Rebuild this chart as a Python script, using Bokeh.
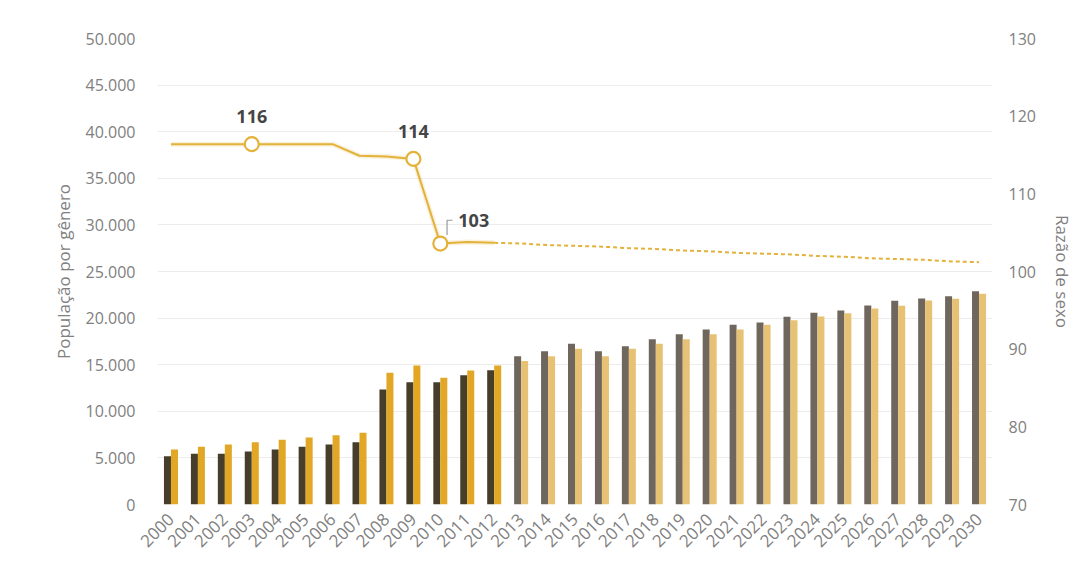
from bokeh.plotting import figure
from bokeh.models import ColumnDataSource, Range1d, LinearAxis, FixedTicker
from bokeh.transform import dodge
from bokeh.core.properties import value
from bokeh.embed import file_html
from bokeh.resources import INLINE
import math

# ---------------- data ----------------
years = list(range(2000, 2031))
hist_years = years[:13]          # 2000-2012
proj_years = years[13:]          # 2013-2030

# population by gender (dark series / gold series)
series_a = [5180, 5440, 5440, 5690, 5900, 6190, 6440, 6690, 12340, 13120, 13120, 13880, 14410,
            15900, 16450, 17240, 16450, 16990, 17740, 18270, 18780, 19280, 19530, 20140, 20570,
            20820, 21350, 21860, 22100, 22350, 22890]
series_b = [5900, 6190, 6440, 6690, 6940, 7190, 7440, 7690, 14130, 14910, 13590, 14380, 14910,
            15400, 15910, 16700, 15910, 16700, 17240, 17740, 18270, 18780, 19280, 19780, 20170,
            20530, 21030, 21320, 21890, 22070, 22610]

# sex ratio
ratio_hist_years = hist_years
ratio_hist = [116.4, 116.4, 116.4, 116.4, 116.4, 116.4, 116.4, 114.9, 114.8, 114.5, 103.6, 103.8, 103.7]
ratio_proj_years = years[12:]    # 2012-2030
ratio_proj = [103.7, 103.6, 103.4, 103.3, 103.2, 103.0, 102.9, 102.7, 102.6, 102.4, 102.3, 102.2,
              102.0, 101.9, 101.7, 101.6, 101.5, 101.3, 101.2]

label_years = [2003, 2009, 2010]
label_texts = ["116", "114", "103"]

left_ticks = list(range(0, 50001, 5000))
right_ticks = list(range(70, 131, 10))

# ---------------- styling ----------------
FONT = "Open Sans"
TICK_COLOR = "#808080"
HIST_DARK = "#463d2b"
HIST_GOLD = "#e1a725"
PROJ_DARK = "#6f675d"
PROJ_GOLD = "#e8c274"
LINE_COLOR = "#e2b23a"

p = figure(frame_width=835, frame_height=466,
           min_border_left=157, min_border_right=84, min_border_top=38, min_border_bottom=71,
           x_range=Range1d(1999.5, 2030.5), y_range=Range1d(0, 50000),
           output_backend="svg", toolbar_location=None, tools="")
p.extra_y_ranges = {"ratio": Range1d(70, 130)}

p.outline_line_color = None
p.background_fill_color = "white"
p.border_fill_color = "white"
p.xgrid.grid_line_color = None
p.ygrid.grid_line_color = "#ececec"
p.ygrid.grid_line_width = 1

# bars
hist_src = ColumnDataSource(dict(year=hist_years, a=series_a[:13], b=series_b[:13]))
proj_src = ColumnDataSource(dict(year=proj_years, a=series_a[13:], b=series_b[13:]))
BW = 0.26
p.vbar(x=dodge("year", -0.13, range=p.x_range), top="a", width=BW, source=hist_src,
       fill_color=HIST_DARK, line_color=None)
p.vbar(x=dodge("year", 0.13, range=p.x_range), top="b", width=BW, source=hist_src,
       fill_color=HIST_GOLD, line_color=None)
p.vbar(x=dodge("year", -0.13, range=p.x_range), top="a", width=BW, source=proj_src,
       fill_color=PROJ_DARK, line_color=None)
p.vbar(x=dodge("year", 0.13, range=p.x_range), top="b", width=BW, source=proj_src,
       fill_color=PROJ_GOLD, line_color=None)

# ratio line
p.line(ratio_hist_years, ratio_hist, y_range_name="ratio", line_color=LINE_COLOR,
       line_width=5, line_alpha=0.18)
p.line(ratio_hist_years, ratio_hist, y_range_name="ratio", line_color=LINE_COLOR, line_width=2)
p.line(ratio_proj_years, ratio_proj, y_range_name="ratio", line_color=LINE_COLOR,
       line_width=2, line_dash="4 3")

ratio_all = dict(zip(ratio_hist_years, ratio_hist))
lab_vals = [ratio_all[y] for y in label_years]
p.scatter(label_years, lab_vals, y_range_name="ratio", size=14, marker="circle",
          fill_color="white", line_color=LINE_COLOR, line_width=2.2)

# labels: first two above, third to the right
p.text(label_years[:2], lab_vals[:2], text=label_texts[:2], y_range_name="ratio",
       text_font=value(FONT), text_font_style="bold", text_font_size="18px",
       text_color="#454545", text_align="center", text_baseline="bottom", y_offset=-21)
p.text([label_years[2]], [lab_vals[2]], text=[label_texts[2]], y_range_name="ratio",
       text_font=value(FONT), text_font_style="bold", text_font_size="18px",
       text_color="#454545", text_align="left", text_baseline="middle",
       x_offset=18, y_offset=-23)
# leader for the 103 label
lx = label_years[2] + 0.25
ly = lab_vals[2]
p.line([lx, lx, lx + 0.2], [ly + 1.1, ly + 3.0, ly + 3.0], y_range_name="ratio",
       line_color="#9a9a9a", line_width=1.2)

# axes
p.xaxis.ticker = FixedTicker(ticks=years)
p.xaxis.major_label_overrides = {y: str(y) for y in years}
p.xaxis.major_label_orientation = math.pi / 4
p.yaxis.ticker = FixedTicker(ticks=left_ticks)
p.yaxis.major_label_overrides = {t: f"{t:,}".replace(",", ".") for t in left_ticks}
p.yaxis.axis_label = "População por gênero"

right = LinearAxis(y_range_name="ratio", ticker=FixedTicker(ticks=right_ticks),
                   axis_label="Razão de sexo")
p.add_layout(right, "right")

for ax in [p.xaxis[0], p.yaxis[0], right]:
    ax.axis_line_color = None
    ax.major_tick_line_color = None
    ax.minor_tick_line_color = None
    ax.major_label_text_font = FONT
    ax.major_label_text_font_size = "16px"
    ax.major_label_text_color = TICK_COLOR
    ax.axis_label_text_font = FONT
    ax.axis_label_text_font_size = "17px"
    ax.axis_label_text_font_style = "normal"
    ax.axis_label_text_color = TICK_COLOR

p.xaxis.major_label_text_font_size = "17px"
p.xaxis.major_label_standoff = 6
p.yaxis.major_label_standoff = 16
p.yaxis.axis_label_standoff = 8
right.major_label_standoff = 10
right.axis_label_standoff = 12

open("out.html", "w").write(file_html(p, INLINE))
